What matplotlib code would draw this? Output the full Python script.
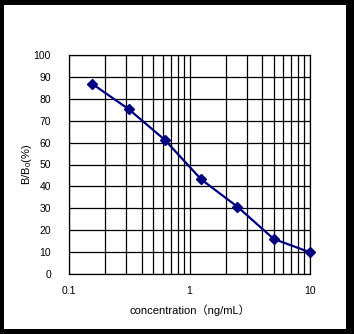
import matplotlib
matplotlib.use("Agg")
import matplotlib.pyplot as plt
from matplotlib.patches import Rectangle
from matplotlib.ticker import FixedLocator, NullFormatter, LogLocator

# Standard curve: concentration vs. B/B0
concentration = [0.156, 0.3125, 0.625, 1.25, 2.5, 5, 10]
b_b0 = [86.8, 75.3, 61.2, 43.2, 30.7, 16.0, 9.9]

x_ticks = [0.1, 1, 10]
x_tick_labels = ["0.1", "1", "10"]
y_ticks = list(range(0, 101, 10))

plt.rcParams['mathtext.default'] = 'regular'
font = ['Liberation Sans', 'Noto Sans CJK JP', 'DejaVu Sans']

fig = plt.figure(figsize=(3.54, 3.34), dpi=100, facecolor='black')
# white canvas inside the black frame
fig.add_artist(Rectangle((4 / 354, 5 / 334), 342 / 354, 324 / 334,
                         transform=fig.transFigure, facecolor='white',
                         edgecolor='none', zorder=-10))

ax = fig.add_axes([69 / 354, 60 / 334, 241 / 354, 219 / 334])
ax.set_facecolor('white')
ax.set_xscale('log')
ax.set_xlim(0.1, 10)
ax.set_ylim(0, 100)

ax.xaxis.set_major_locator(FixedLocator(x_ticks))
ax.set_xticklabels(x_tick_labels)
ax.xaxis.set_minor_locator(LogLocator(base=10, subs=range(2, 10)))
ax.xaxis.set_minor_formatter(NullFormatter())
ax.set_yticks(y_ticks)

ax.grid(True, which='both', axis='x', color='black', linewidth=0.9)
ax.grid(True, which='major', axis='y', color='black', linewidth=0.9)
ax.set_axisbelow(True)

ax.tick_params(which='both', length=0)
ax.tick_params(axis='y', pad=13, labelsize=7.5)
ax.tick_params(axis='x', pad=9, labelsize=7.5)
for lbl in ax.get_xticklabels() + ax.get_yticklabels():
    lbl.set_family(font)

for s in ax.spines.values():
    s.set_color('black')
    s.set_linewidth(0.9)

ax.plot(concentration, b_b0, color='#000080', linewidth=1.6,
        marker='D', markersize=5.5, markerfacecolor='#000080',
        markeredgecolor='#000080', clip_on=False, zorder=5)

ax.set_xlabel('concentration（ng/mL）', family=font, fontsize=8, labelpad=6)
ax.set_ylabel('B/B$_0$(%)', family=font, fontsize=8, labelpad=0)

fig.savefig('out.png', dpi=100, facecolor='black')
